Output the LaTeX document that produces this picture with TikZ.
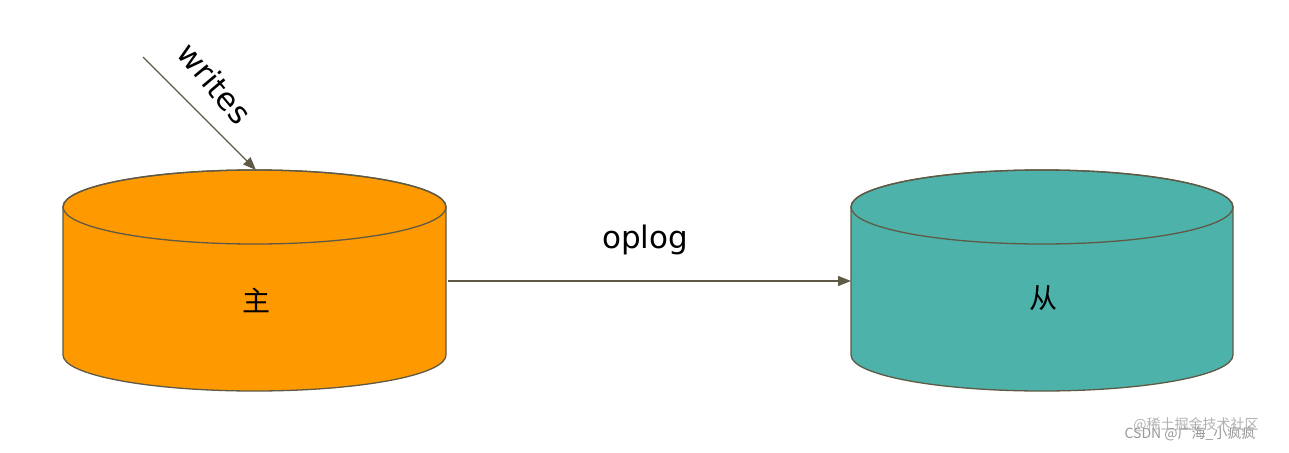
\documentclass[tikz,border=0pt]{standalone}
\usepackage{fontspec}
\setmainfont{DejaVu Sans}
\newfontfamily\cjk{Noto Sans CJK SC}
\usetikzlibrary{arrows.meta}
\definecolor{edge}{HTML}{5F5A46}
\definecolor{mast}{HTML}{FF9900}
\definecolor{slav}{HTML}{4DB3AA}
\tikzset{
  cyl/.style={draw=edge, line width=1.3pt},
  conn/.style={draw=edge, line width=1.3pt, -{Triangle[length=13pt,width=10pt]}},
}
\newcommand{\mycyl}[3]{% x-left, x-right, fill
  \path[cyl, fill=#3] (#1,207) -- (#1,355) arc[start angle=180,end angle=0,x radius={(#2-#1)/2},y radius=36] -- (#2,207) arc[start angle=0,end angle=-180,x radius={(#2-#1)/2},y radius=37] -- cycle;
  \path[cyl] ({(#1+#2)/2},207) ellipse[x radius={(#2-#1)/2},y radius=37];
}
\begin{document}
\begin{tikzpicture}[x=1pt,y=-1pt]
\useasboundingbox[fill=white] (0,0) rectangle (1289,452);
\mycyl{63}{446}{mast}
\mycyl{851}{1233}{slav}
\node (m) at (256,300) {\cjk\fontsize{28}{32}\selectfont 主};
\node (s) at (1043,298) {\cjk\fontsize{28}{32}\selectfont 从};
\coordinate (mtop) at (256,170);
\coordinate (mr) at (448,281);
\coordinate (sl) at (851,281);
\coordinate (w) at (143,57);
\draw[conn] (w) -- (mtop);
\draw[conn] (mr) -- (sl);
\node[rotate=-50, font=\fontsize{31}{34}\selectfont] (wl) at (215,83) {writes};
\node[font=\fontsize{31}{34}\selectfont] (ol) at (645,240) {oplog};
\node[text=gray!60, font=\fontsize{14}{16}\selectfont] (wm1) at (1196,425) {\cjk @稀土掘金技术社区};
\node[text=gray!80, font=\fontsize{14}{16}\selectfont] (wm2) at (1190,434) {\cjk CSDN @广海\_小疯疯};
\end{tikzpicture}
\end{document}
